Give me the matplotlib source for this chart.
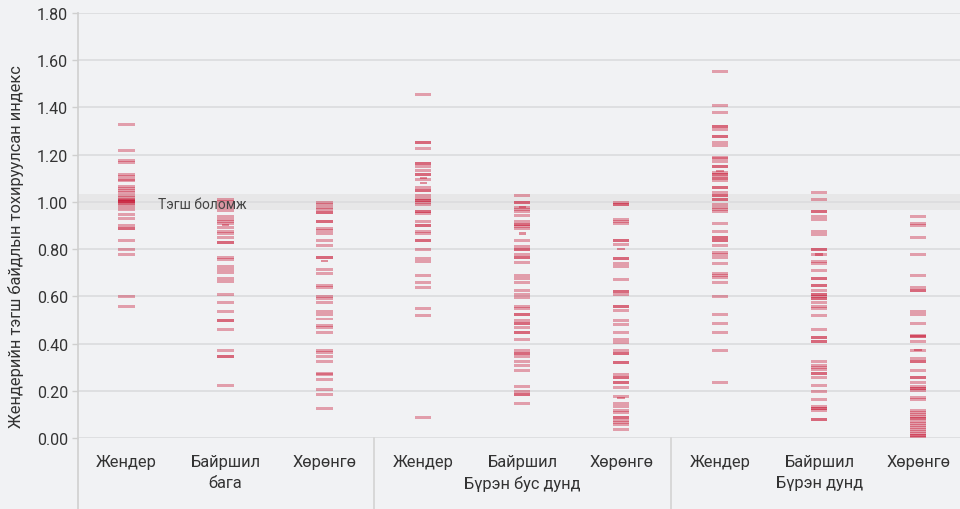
import matplotlib
matplotlib.use("Agg")
import matplotlib.pyplot as plt
from matplotlib.transforms import blended_transform_factory

# ---------------- data ----------------
categories = ["Жендер", "Байршил", "Хөрөнгө"] * 3
groups = ["бага", "Бүрэн бус дунд", "Бүрэн дунд"]
y_label = "Жендерийн тэгш байдлын тохируулсан индекс"
parity_label = "Тэгш боломж"
y_ticks = [0.0, 0.2, 0.4, 0.6, 0.8, 1.0, 1.2, 1.4, 1.6, 1.8]

gender_low = [1.327, 1.217, 1.175, 1.166, 1.115, 1.107, 1.096, 1.089, 1.065, 1.056,
              1.048, 1.039, 1.028, 1.017, 1.005, 1.005, 1.0, 1.0, 0.994, 0.994,
              1.010, 0.980, 0.969, 0.948, 0.930, 0.901, 0.887, 0.887, 0.837, 0.799,
              0.777, 0.600, 0.558]
location_low = [1.011, 1.003, 0.989, 0.975, 0.962, 0.938, 0.927, 0.918, 0.910, 0.890,
                0.876, 0.865, 0.848, 0.828, 0.828, 0.765, 0.755, 0.727, 0.715, 0.699,
                0.676, 0.662, 0.608, 0.575, 0.537, 0.499, 0.499, 0.461, 0.372, 0.346,
                0.346, 0.224]
wealth_low = [0.997, 0.989, 0.975, 0.966, 0.955, 0.955, 0.917, 0.917, 0.887, 0.879,
              0.865, 0.837, 0.817, 0.765, 0.765, 0.714, 0.697, 0.646, 0.638, 0.600,
              0.589, 0.572, 0.537, 0.521, 0.504, 0.476, 0.468, 0.448, 0.372, 0.361,
              0.346, 0.325, 0.275, 0.269, 0.249, 0.207, 0.186, 0.127]
gender_mid = [1.454, 1.251, 1.251, 1.225, 1.162, 1.162, 1.149, 1.132, 1.115, 1.115,
              1.093, 1.061, 1.048, 1.048, 1.027, 1.015, 1.006, 1.006, 0.997, 0.987,
              0.959, 0.959, 0.949, 0.917, 0.900, 0.900, 0.876, 0.865, 0.837, 0.837,
              0.799, 0.761, 0.748, 0.689, 0.659, 0.638, 0.549, 0.520, 0.085]
location_mid = [1.027, 0.997, 0.997, 0.977, 0.969, 0.958, 0.941, 0.915, 0.904, 0.904,
                0.896, 0.887, 0.837, 0.811, 0.799, 0.799, 0.777, 0.765, 0.765, 0.745,
                0.687, 0.676, 0.659, 0.625, 0.606, 0.597, 0.558, 0.549, 0.524, 0.524,
                0.499, 0.487, 0.487, 0.469, 0.448, 0.448, 0.418, 0.372, 0.359, 0.359,
                0.346, 0.325, 0.308, 0.287, 0.220, 0.199, 0.186, 0.186, 0.148]
wealth_mid = [0.997, 0.989, 0.989, 0.925, 0.915, 0.907, 0.837, 0.837, 0.821, 0.761,
              0.761, 0.739, 0.727, 0.672, 0.621, 0.621, 0.608, 0.558, 0.558, 0.541,
              0.499, 0.482, 0.448, 0.418, 0.403, 0.372, 0.359, 0.359, 0.321, 0.321,
              0.270, 0.258, 0.258, 0.237, 0.237, 0.215, 0.176, 0.148, 0.135, 0.118,
              0.110, 0.085, 0.085, 0.076, 0.065, 0.058, 0.038]
gender_full = [1.551, 1.407, 1.377, 1.318, 1.318, 1.306, 1.276, 1.276, 1.251, 1.238,
               1.187, 1.182, 1.169, 1.149, 1.149, 1.124, 1.115, 1.115, 1.104, 1.099,
               1.090, 1.063, 1.063, 1.039, 1.027, 1.027, 1.011, 1.011, 0.989, 0.975,
               0.966, 0.958, 0.908, 0.875, 0.849, 0.849, 0.837, 0.837, 0.815, 0.785,
               0.779, 0.766, 0.739, 0.696, 0.690, 0.679, 0.659, 0.600, 0.524, 0.486,
               0.448, 0.372, 0.237]
location_full = [1.039, 1.010, 0.959, 0.959, 0.938, 0.925, 0.875, 0.862, 0.799, 0.799,
                 0.777, 0.748, 0.739, 0.710, 0.676, 0.676, 0.646, 0.646, 0.625, 0.608,
                 0.608, 0.600, 0.589, 0.589, 0.575, 0.558, 0.549, 0.520, 0.461, 0.427,
                 0.427, 0.410, 0.410, 0.325, 0.308, 0.297, 0.289, 0.275, 0.275, 0.258,
                 0.224, 0.199, 0.161, 0.135, 0.127, 0.127, 0.118, 0.080, 0.080]
wealth_full = [0.938, 0.908, 0.900, 0.849, 0.777, 0.689, 0.638, 0.625, 0.625, 0.537,
               0.524, 0.486, 0.435, 0.428, 0.428, 0.410, 0.372, 0.338, 0.325, 0.325,
               0.287, 0.258, 0.258, 0.237, 0.220, 0.208, 0.208, 0.200, 0.173, 0.161,
               0.118, 0.110, 0.101, 0.093, 0.082, 0.082, 0.070, 0.062, 0.054, 0.045,
               0.037, 0.028, 0.020, 0.011, 0.011, 0.004]

# narrow marks (half-width)
narrow_marks = [[], [0.901], [0.751], [1.101, 1.080], [0.977, 0.866],
                [0.800, 0.170], [1.130], [0.777], [0.372]]

series = [gender_low, location_low, wealth_low,
          gender_mid, location_mid, wealth_mid,
          gender_full, location_full, wealth_full]

# ---------------- style ----------------
BG = "#f1f2f4"
RED = "#c8102e"
GRID = "#dcdddf"
TXT = "#333333"

plt.rcParams["font.family"] = ["Roboto", "DejaVu Sans"]

fig = plt.figure(figsize=(9.6, 5.1), dpi=100, facecolor=BG)
ax = fig.add_axes([78 / 960, (510 - 439) / 510, (960 - 78) / 960, 425 / 510])
ax.set_facecolor(BG)

ax.set_xlim(-0.49, 8.42)
ax.set_ylim(0, 1.8)

# parity band
ax.axhspan(0.965, 1.035, color="#e7e7e8", zorder=0.5, linewidth=0)

# grid
for t in y_ticks:
    ax.axhline(t, color=GRID, linewidth=1.3, zorder=0.6)

tick_h = 0.0127
for i, vals in enumerate(series):
    ax.bar([i] * len(vals), [tick_h] * len(vals),
           bottom=[v - tick_h / 2 for v in vals], width=0.162,
           color=RED, alpha=0.37, linewidth=0, zorder=2)
    nm = narrow_marks[i]
    if nm:
        ax.bar([i] * len(nm), [tick_h * 0.7] * len(nm),
               bottom=[v - tick_h * 0.35 for v in nm], width=0.08,
               color=RED, alpha=0.45, linewidth=0, zorder=2.5)

ax.text(0.32, 0.99, parity_label, fontsize=10, color="#444444",
        va="center", ha="left", zorder=3)

# spines
for s in ax.spines.values():
    s.set_visible(False)

ax.set_yticks(y_ticks)
ax.set_yticklabels([f"{t:.2f}" for t in y_ticks], fontsize=11.5, color=TXT)
ax.tick_params(axis="y", length=4, width=1, color="#cfcfcf", pad=3)
ax.set_xticks([])

trans = blended_transform_factory(ax.transData, ax.transAxes)
# left axis line and separators, extending below
ax.plot([-0.49, -0.49], [1.0, -0.17], transform=trans, color="#d2d2d2",
        linewidth=1.3, clip_on=False, zorder=1)
for xs in [2.5, 5.5]:
    ax.plot([xs, xs], [0.0, -0.17], transform=trans, color="#d6d6d6",
            linewidth=1.3, clip_on=False, zorder=1)

for i, c in enumerate(categories):
    ax.text(i, -0.055, c, transform=trans, ha="center", va="center",
            fontsize=11.8, color=TXT)
for g, name in enumerate(groups):
    ax.text(3 * g + 1, -0.105, name, transform=trans, ha="center", va="center",
            fontsize=11.8, color=TXT)

fig.text(16 / 960, 1 - 247 / 510, y_label, rotation=90, ha="center", va="center",
         fontsize=11.8, color=TXT)

fig.savefig("out.png", dpi=100, facecolor=BG)
